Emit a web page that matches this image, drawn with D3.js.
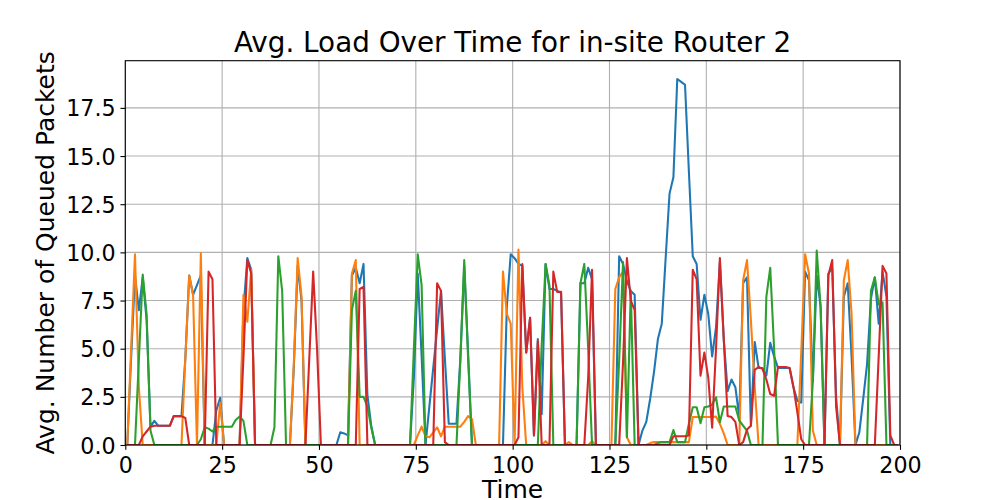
<!DOCTYPE html>
<html>
<head>
<meta charset="utf-8">
<script src="https://cdn.jsdelivr.net/npm/d3@7"></script>
<style>
  html, body { margin: 0; padding: 0; background: #fff; }
  text { font-family: "DejaVu Sans", sans-serif; fill: #000; }
</style>
</head>
<body>
<svg id="chart" width="1000" height="500"></svg>
<script>
// ---- DATA ----
const titleText = "Avg. Load Over Time for in-site Router 2";
const xLabelText = "Time";
const yLabelText = "Avg. Number of Queued Packets";
const xTicks = [0, 25, 50, 75, 100, 125, 150, 175, 200];
const yTicks = [0, 2.5, 5, 7.5, 10, 12.5, 15, 17.5];
const seriesColors = ["#1f77b4", "#ff7f0e", "#2ca02c", "#d62728"];

// sample times (bin centres)
const times = d3.range(200).map(i => i + 0.5);

const blue = [
  0, 4.5, 8.8, 7.0, 8.7, 6.5, 0.95, 1.25, 1.0, 1.0,
  1.0, 1.0, 1.5, 1.5, 1.5, 4.5, 8.8, 7.8, 8.3, 8.8,
  0, 0, 0, 1.8, 2.45, 0, 0, 0, 0, 0,
  7.0, 9.7, 9.1, 0, 0, 0, 0, 0, 0, 0,
  0, 0, 0, 4.0, 9.3, 7.5, 0, 0, 0, 0,
  0, 0, 0, 0, 0, 0.66, 0.6, 0.5, 8.8, 9.2,
  8.4, 9.4, 2.6, 1.0, 0, 0, 0, 0, 0, 0,
  0, 0, 0, 0, 3.5, 8.9, 4.6, 0, 2.0, 4.0,
  6.0, 8.0, 4.5, 1.1, 1.1, 1.1, 4.5, 9.3, 4.8, 0,
  0, 0, 0, 0, 0, 0, 0, 0, 7.2, 9.9,
  9.7, 9.4, 9.3, 4.8, 6.6, 0.5, 5.5, 1.6, 9.4, 8.1,
  8.1, 8.0, 7.9, 0, 0, 0, 0, 8.4, 8.4, 9.2,
  8.6, 0, 0, 0, 0, 0, 0, 9.8, 9.4, 8.5,
  8.0, 7.8, 0, 0.75, 1.2, 2.4, 3.8, 5.5, 6.3, 9.7,
  13.05, 13.9, 19.0, 18.85, 18.7, 14.2, 9.8, 9.4, 6.5, 7.8,
  6.8, 4.6, 6.1, 9.5, 5.5, 2.8, 3.4, 3.0, 1.45, 8.4,
  8.7, 1.0, 5.35, 4.0, 4.0, 3.6, 5.3, 4.6, 4.0, 4.0,
  4.0, 4.0, 3.0, 2.3, 2.2, 9.0, 8.55, 3.3, 8.8, 7.2,
  0, 8.9, 9.2, 2.5, 0, 7.7, 8.4, 4.6, 0, 0.66,
  2.4, 4.2, 7.6, 8.7, 6.3, 9.0, 7.7, 0, 0, 0
];

const orange = [
  0, 5.0, 9.9, 3.0, 0, 0, 0, 0, 0, 0,
  0, 0, 0, 0, 0, 4.5, 8.8, 7.8, 0, 9.95,
  0, 0, 0, 0, 2.2, 0, 0, 0, 0, 0,
  7.8, 6.4, 9.1, 0, 0, 0, 0, 0, 0, 0,
  0, 0, 0, 4.2, 9.7, 7.7, 0, 0, 0, 0,
  0, 0, 0, 0, 0, 0, 0, 0, 8.9, 9.6,
  0, 0, 0, 0, 0, 0, 0, 0, 0, 0,
  0, 0, 0, 0, 0, 0.5, 0.95, 0.45, 0.4, 0.65,
  0.92, 0.45, 0.95, 0.95, 0.95, 0.95, 0.95, 1.2, 1.5, 1.35,
  0, 0, 0, 0, 0, 0, 0, 9.0, 6.8, 6.3,
  0, 10.15, 3.0, 0, 0, 0, 0, 0, 0.2, 0,
  0, 0, 0, 0, 0.15, 0, 0, 0, 0, 0,
  0.2, 0, 0, 0, 0, 0, 8.1, 8.7, 9.0, 0.4,
  0, 0, 0, 0, 0, 0.1, 0.15, 0.15, 0.15, 0.15,
  0.15, 0.15, 0.15, 0.15, 0.15, 0.15, 1.45, 1.45, 1.45, 1.45,
  1.45, 1.45, 1.48, 1.1, 0.6, 0, 0, 0, 0, 8.55,
  9.6, 6.5, 3.0, 0, 0, 0, 0, 0, 0, 0,
  0, 0, 0, 0, 4.8, 9.9, 8.9, 0.75, 0, 0,
  0, 0, 0, 0, 0, 8.55, 9.6, 6.8, 0, 0,
  0, 0, 0, 0, 0, 0, 0, 0, 0, 0
];

const green = [
  0, 0, 0, 4.4, 8.85, 6.8, 0.75, 0, 0, 0,
  0, 0, 0, 0, 0, 0, 0, 0, 0, 0.3,
  0.92, 0.85, 0.7, 0.95, 0.95, 0.95, 0.95, 0.95, 1.3, 1.48,
  1.25, 0, 0, 0, 0, 0, 0, 0, 0.92, 9.8,
  8.0, 0, 0, 0, 0, 0, 0, 0, 0, 0,
  0, 0, 0, 0, 0, 0, 0, 0, 7.0, 8.0,
  2.5, 2.5, 2.0, 0.9, 0, 0, 0, 0, 0, 0,
  0, 0, 0, 0, 5.0, 9.9, 8.3, 0, 0, 0,
  0, 0, 0, 0, 0, 0, 4.4, 9.6, 4.5, 0,
  0, 0, 0, 0, 0, 0, 0, 0, 0, 0,
  0, 0, 0, 0, 0, 0, 0, 5.2, 9.4, 8.3,
  0, 0, 0, 0, 0, 0, 0, 8.4, 9.4, 5.0,
  0, 0, 0, 0, 0, 0, 0, 4.4, 9.5, 0.4,
  8.0, 0, 0, 0, 0, 0, 0, 0.1, 0.15, 0.15,
  0.15, 0.78, 0.15, 0.15, 0.15, 1.1, 1.96, 1.96, 1.13, 1.96,
  2.0, 2.1, 2.48, 1.18, 2.0, 2.0, 2.0, 2.0, 1.27, 1.0,
  0.75, 0, 0, 0, 0, 7.7, 9.2, 5.0, 0, 0,
  0, 0, 0, 0, 0, 0, 0, 3.3, 10.1, 7.2,
  0, 0, 0, 0, 0, 0, 0, 0, 0, 0,
  0, 0, 8.0, 8.7, 7.3, 7.4, 0, 0, 0, 0
];

const red = [
  0, 0, 0, 0, 0.45, 0.7, 0.95, 1.0, 1.0, 1.0,
  1.0, 1.0, 1.5, 1.5, 1.5, 1.4, 0, 0, 0, 0,
  0, 9.0, 8.6, 0, 0, 0, 0, 0, 0, 0,
  4.5, 9.6, 8.9, 0, 0, 0, 0, 0, 0, 0,
  0, 0, 0, 0, 0, 0, 0, 4.5, 9.0, 5.0,
  0, 0, 0, 0, 0, 0, 0, 0, 0, 0,
  8.1, 8.2, 0, 0, 0, 0, 0, 0, 0, 0,
  0, 0, 0, 0, 0, 0, 0, 0, 0, 0,
  8.4, 8.0, 0.15, 0, 0, 0, 0, 0, 0, 0,
  0, 0, 0, 0, 0, 0, 0, 0, 0, 0,
  0, 0.4, 9.4, 4.8, 6.6, 0.5, 5.4, 0, 0, 0,
  9.0, 7.95, 7.95, 0, 0, 0, 0, 0, 0, 3.5,
  9.1, 0, 0, 0, 0, 0, 0, 0, 4.3, 9.7,
  7.5, 7.0, 0, 0, 0, 0, 0, 0, 0, 0,
  0, 0.45, 0.45, 0.45, 0.45, 0.5, 9.1, 8.6, 3.6, 4.8,
  3.5, 0.9, 5.0, 9.7, 5.5, 1.5, 1.45, 1.2, 0, 0.15,
  0.8, 1.0, 3.9, 4.05, 3.95, 3.4, 2.65, 2.55, 4.05, 4.05,
  4.05, 4.0, 3.0, 1.7, 0.3, 0, 0, 0, 0, 0,
  0, 8.8, 9.6, 2.0, 0, 0, 0, 0, 0, 0,
  0, 0, 0, 0, 4.6, 9.3, 8.9, 0.5, 0, 0
];

const allSeries = [blue, orange, green, red];

// ---- LAYOUT ----
const W = 1000, H = 500;
const mLeft = 125.3, mRight = 900, mTop = 60.7, mBottom = 445;
const svg = d3.select("#chart");
svg.append("rect").attr("width", W).attr("height", H).attr("fill", "#fff");

const x = d3.scaleLinear().domain([0, 200]).range([mLeft, mRight]);
const y = d3.scaleLinear().domain([0, 19.95]).range([mBottom, mTop]);

// grid
const grid = svg.append("g");
grid.selectAll(".vg").data(xTicks).enter().append("line")
  .attr("x1", d => x(d)).attr("x2", d => x(d))
  .attr("y1", mTop).attr("y2", mBottom)
  .attr("stroke", "#b0b0b0").attr("stroke-width", 1.1);
grid.selectAll(".hg").data(yTicks).enter().append("line")
  .attr("x1", mLeft).attr("x2", mRight)
  .attr("y1", d => y(d)).attr("y2", d => y(d))
  .attr("stroke", "#b0b0b0").attr("stroke-width", 1.1);

// clip
svg.append("clipPath").attr("id", "clip").append("rect")
  .attr("x", mLeft).attr("y", mTop).attr("width", mRight - mLeft).attr("height", mBottom - mTop);

const line = d3.line().x((d, i) => x(times[i])).y(d => y(d));
const lines = svg.append("g").attr("clip-path", "url(#clip)");
allSeries.forEach((s, k) => {
  lines.append("path").datum(s)
    .attr("d", line)
    .attr("fill", "none")
    .attr("stroke", seriesColors[k])
    .attr("stroke-width", 2.08)
    .attr("stroke-linejoin", "round")
    .attr("stroke-linecap", "butt");
});

// axes
const xAxis = d3.axisBottom(x).tickValues(xTicks).tickFormat(d3.format("d")).tickSize(4.86).tickPadding(4.86);
const yAxis = d3.axisLeft(y).tickValues(yTicks).tickFormat(d3.format(".1f")).tickSize(4.86).tickPadding(4.86);

const gx = svg.append("g").attr("transform", `translate(0,${mBottom})`).call(xAxis);
const gy = svg.append("g").attr("transform", `translate(${mLeft},0)`).call(yAxis);
[gx, gy].forEach(g => {
  g.select(".domain").remove();
  g.selectAll(".tick line").attr("stroke", "#000").attr("stroke-width", 1.1);
  g.selectAll(".tick text").attr("font-family", "DejaVu Sans").attr("font-size", "22.2px").attr("fill", "#000");
});
gx.selectAll(".tick text").attr("dy", null).attr("y", 27.5);
gy.selectAll(".tick text").attr("dy", "0.36em");

// spines
svg.append("rect").attr("x", mLeft).attr("y", mTop)
  .attr("width", mRight - mLeft).attr("height", mBottom - mTop)
  .attr("fill", "none").attr("stroke", "#000").attr("stroke-width", 1.1);

// labels
svg.append("text").attr("x", (mLeft + mRight) / 2).attr("y", 52)
  .attr("text-anchor", "middle").attr("font-size", "27.8px").text(titleText);
svg.append("text").attr("x", (mLeft + mRight) / 2).attr("y", 498)
  .attr("text-anchor", "middle").attr("font-size", "25px").text(xLabelText);
svg.append("text")
  .attr("transform", `translate(54,${(mTop + mBottom) / 2}) rotate(-90)`)
  .attr("text-anchor", "middle").attr("font-size", "25px").text(yLabelText);
</script>
</body>
</html>
